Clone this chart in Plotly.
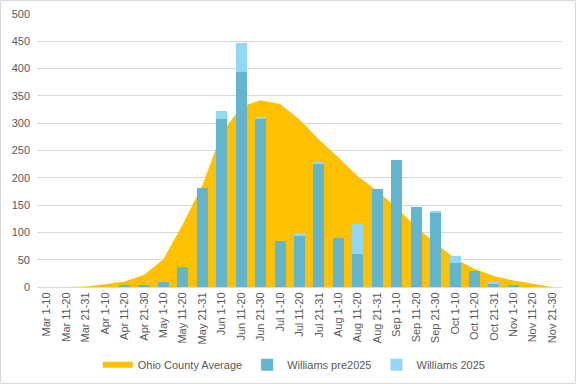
import plotly.graph_objects as go

categories = ["Mar 1-10", "Mar 11-20", "Mar 21-31", "Apr 1-10", "Apr 11-20", "Apr 21-30",
              "May 1-10", "May 11-20", "May 21-31", "Jun 1-10", "Jun 11-20", "Jun 21-30",
              "Jul 1-10", "Jul 11-20", "Jul 21-31", "Aug 1-10", "Aug 11-20", "Aug 21-31",
              "Sep 1-10", "Sep 11-20", "Sep 21-30", "Oct 1-10", "Oct 11-20", "Oct 21-31",
              "Nov 1-10", "Nov 11-20", "Nov 21-30"]
ohio_avg = [0, 0, 1, 5, 10, 22, 51, 115, 186, 282, 330, 342, 335, 307, 270, 237, 203, 176,
            145, 110, 80, 52, 33, 20, 12, 6, 0]
williams_pre2025 = [0, 0, 0, 0, 4, 4, 10, 37, 181, 308, 394, 308, 84, 93, 225, 90, 60, 179,
                    233, 146, 137, 44, 29, 7, 3.5, 0, 0]
williams_2025 = [0, 0, 0, 0, 0, 0, 0, 0, 0, 15, 52, 2, 0, 6, 4, 0, 55, 0,
                 0, 0, 2, 13, 0, 2, 0, 0, 0]

ORANGE = "#FFC000"
BLUE = "#62B5CF"
LIGHT = "#92D8F4"
GRID = "#D9D9D9"
TXT = "#595959"
FONT = "Liberation Sans"

fig = go.Figure()
fig.add_trace(go.Scatter(x=categories, y=ohio_avg, name="Ohio County Average",
                         mode="none", fill="tozeroy", fillcolor=ORANGE,
                         xaxis="x", yaxis="y"))
fig.add_trace(go.Bar(x=categories, y=williams_pre2025, name="Williams pre2025",
                     marker=dict(color=BLUE, line=dict(width=0)), xaxis="x2", yaxis="y2"))
fig.add_trace(go.Bar(x=categories, y=williams_2025, name="Williams 2025",
                     marker=dict(color=LIGHT, line=dict(width=0)), xaxis="x2", yaxis="y2"))

L, R, T, B = 37, 14, 14, 97
W, H = 576, 384
pw = W - L - R
ph = H - T - B

fig.update_layout(
    width=W, height=H,
    margin=dict(l=L, r=R, t=T, b=B, autoexpand=False),
    paper_bgcolor="white", plot_bgcolor="white",
    barmode="stack", bargap=0.43,
    font=dict(family=FONT, size=11, color=TXT),
    showlegend=True,
    legend=dict(orientation="h", x=0.49, xanchor="center", yref="container",
                y=0.05, yanchor="middle", font=dict(size=11, color=TXT),
                traceorder="normal", itemwidth=30, tracegroupgap=0),
    xaxis=dict(type="category", range=[-0.5, 26.5], tickangle=-90, showgrid=False,
               showline=True, linecolor=GRID, linewidth=1, ticks="",
               tickfont=dict(size=11, color=TXT), categoryorder="array",
               categoryarray=categories, automargin=False),
    yaxis=dict(range=[0, 500], dtick=50, showgrid=True, gridcolor=GRID, gridwidth=1,
               zeroline=False, showline=False, ticks="", tickfont=dict(size=11, color=TXT),
               ticklabelstandoff=6, automargin=False),
    xaxis2=dict(type="category", overlaying="x", range=[-0.5, 26.5], visible=False,
                categoryorder="array", categoryarray=categories, automargin=False),
    yaxis2=dict(overlaying="y", range=[0, 500], visible=False, automargin=False),
    shapes=[dict(type="rect", xref="paper", yref="paper",
                 x0=-(L - 0.5) / pw, x1=1 + (R - 0.5) / pw,
                 y0=-(B - 0.5) / ph, y1=1 + (T - 0.5) / ph,
                 line=dict(color=GRID, width=1), fillcolor="rgba(0,0,0,0)", layer="below")],
)

fig.write_html("out.html", config={"displayModeBar": False},
               post_script="document.body.style.margin='0';")
